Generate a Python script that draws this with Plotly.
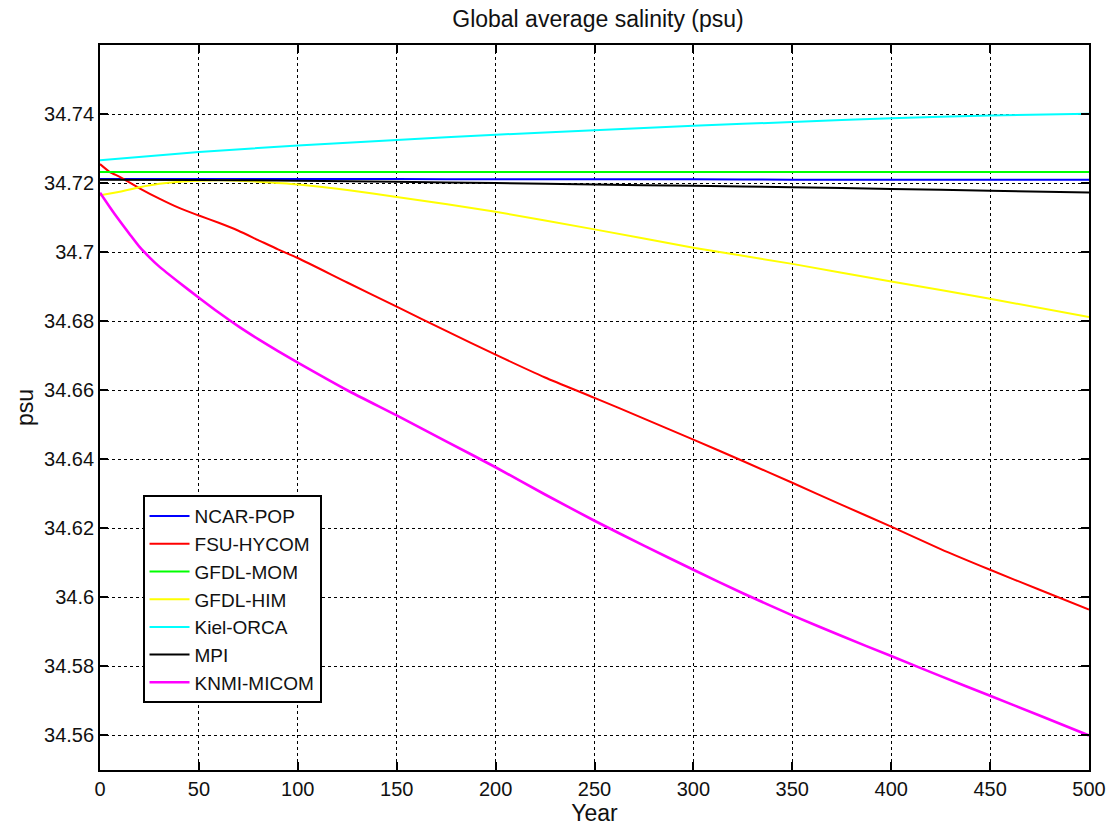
import plotly.graph_objects as go

# ---- data ----
years_flat = [0, 50, 100, 150, 200, 250, 300, 350, 400, 450, 500]
ncar_pop = [34.7212, 34.7212, 34.7212, 34.7212, 34.7211, 34.7211, 34.7211, 34.7210, 34.7210, 34.7210, 34.7210]
gfdl_mom = [34.7232, 34.7232, 34.7232, 34.7232, 34.7232, 34.7232, 34.7232, 34.7232, 34.7232, 34.7232, 34.7232]
mpi = [34.7210, 34.7209, 34.7207, 34.7204, 34.7200, 34.7196, 34.7192, 34.7188, 34.7183, 34.7178, 34.7173]
kiel_orca = [34.7266, 34.7290, 34.7309, 34.7325, 34.7340, 34.7353, 34.7366, 34.7377, 34.7388, 34.7396, 34.7401]

years_him = [0, 10, 20, 30, 40, 50, 60, 70, 80, 100, 125, 150, 200, 250, 300, 350, 400, 450, 500]
gfdl_him = [34.7165, 34.7175, 34.7188, 34.7198, 34.7204, 34.7207, 34.7208, 34.7207, 34.7204, 34.7196, 34.7180, 34.7160, 34.7117, 34.7066, 34.7013, 34.6966, 34.6915, 34.6865, 34.6812]

years_fsu = [0, 5, 10, 20, 30, 40, 50, 60, 70, 80, 90, 100, 125, 150, 175, 200, 225, 250, 275, 300, 325, 350, 375, 400, 425, 450, 475, 500]
fsu_hycom = [34.7255, 34.7232, 34.7218, 34.7185, 34.7155, 34.7128, 34.7106, 34.7085, 34.7062, 34.7035, 34.7008, 34.6983, 34.6912, 34.6842, 34.6772, 34.6703, 34.6637, 34.6578, 34.6518, 34.6457, 34.6395, 34.6332, 34.6268, 34.6205, 34.6140, 34.6080, 34.6022, 34.5965]

years_knmi = [0, 5, 10, 15, 20, 25, 30, 40, 50, 60, 70, 80, 90, 100, 125, 150, 175, 200, 225, 250, 275, 300, 325, 350, 375, 400, 425, 450, 475, 500]
knmi_micom = [34.7172, 34.7130, 34.7090, 34.7052, 34.7015, 34.6985, 34.6958, 34.6912, 34.6868, 34.6825, 34.6785, 34.6748, 34.6713, 34.6680, 34.6600, 34.6527, 34.6452, 34.6377, 34.6298, 34.6222, 34.6150, 34.6080, 34.6012, 34.5948, 34.5888, 34.5830, 34.5772, 34.5715, 34.5658, 34.5600]

series = [
    ("NCAR-POP", years_flat, ncar_pop, "#0000ff", 2.0),
    ("FSU-HYCOM", years_fsu, fsu_hycom, "#ff0000", 2.0),
    ("GFDL-MOM", years_flat, gfdl_mom, "#00ff00", 2.0),
    ("GFDL-HIM", years_him, gfdl_him, "#ffff00", 2.0),
    ("Kiel-ORCA", years_flat, kiel_orca, "#00ffff", 2.0),
    ("MPI", years_flat, mpi, "#000000", 2.0),
    ("KNMI-MICOM", years_knmi, knmi_micom, "#ff00ff", 2.6),
]

x_ticks = [0, 50, 100, 150, 200, 250, 300, 350, 400, 450, 500]
y_ticks = [34.56, 34.58, 34.60, 34.62, 34.64, 34.66, 34.68, 34.70, 34.72, 34.74]
y_ticklabels = ["34.56", "34.58", "34.6", "34.62", "34.64", "34.66", "34.68", "34.7", "34.72", "34.74"]

fig = go.Figure()
for name, xs, ys, color, w in series:
    fig.add_trace(go.Scatter(x=xs, y=ys, mode="lines", name=name, legendgroup=name,
                             line=dict(color=color, width=w, shape="spline", smoothing=0.6)))

font_family = "Liberation Sans, Arial, sans-serif"
fig.update_layout(
    width=1118, height=828,
    margin=dict(l=100, r=22, t=45, b=50),
    paper_bgcolor="white", plot_bgcolor="white",
    font=dict(family=font_family, size=20, color="#111111"),
    title=dict(text="Global average salinity (psu)", x=598 / 1118, xanchor="center",
               y=1 - 19 / 828, yanchor="middle", font=dict(size=23)),
    legend=dict(x=0.043, y=0.379, xanchor="left", yanchor="top",
                bgcolor="white", bordercolor="black", borderwidth=2,
                font=dict(size=19), tracegroupgap=0, itemwidth=40),
    showlegend=True,
)
fig.update_xaxes(range=[0, 500], tickvals=x_ticks, ticktext=[str(v) for v in x_ticks],
                 ticks="inside", ticklen=8, tickcolor="black", tickwidth=1.5,
                 showline=True, linecolor="black", linewidth=1.8, mirror="ticks",
                 showgrid=True, gridcolor="black", gridwidth=1, griddash="dot",
                 zeroline=False,
                 title=dict(text="Year", standoff=0, font=dict(size=23)),
                 tickfont=dict(size=20))
fig.update_yaxes(range=[34.55, 34.76], tickvals=y_ticks, ticktext=y_ticklabels,
                 ticks="inside", ticklen=8, tickcolor="black", tickwidth=1.5,
                 showline=True, linecolor="black", linewidth=1.8, mirror="ticks",
                 showgrid=True, gridcolor="black", gridwidth=1, griddash="dot",
                 zeroline=False,
                 title=dict(text="psu", standoff=4, font=dict(size=23)),
                 tickfont=dict(size=20))

# pin the figure to the window's top-left corner, with no page margin or scrolling
post = (
    "document.documentElement.style.margin='0';"
    "document.documentElement.style.overflow='hidden';"
    "document.body.style.margin='0';"
    "document.body.style.overflow='hidden';"
    "var gd=document.getElementById('{plot_id}');"
    "gd.style.position='fixed';gd.style.left='0px';gd.style.top='0px';"
)
fig.write_html("out.html", post_script=post, config={"displayModeBar": False})
